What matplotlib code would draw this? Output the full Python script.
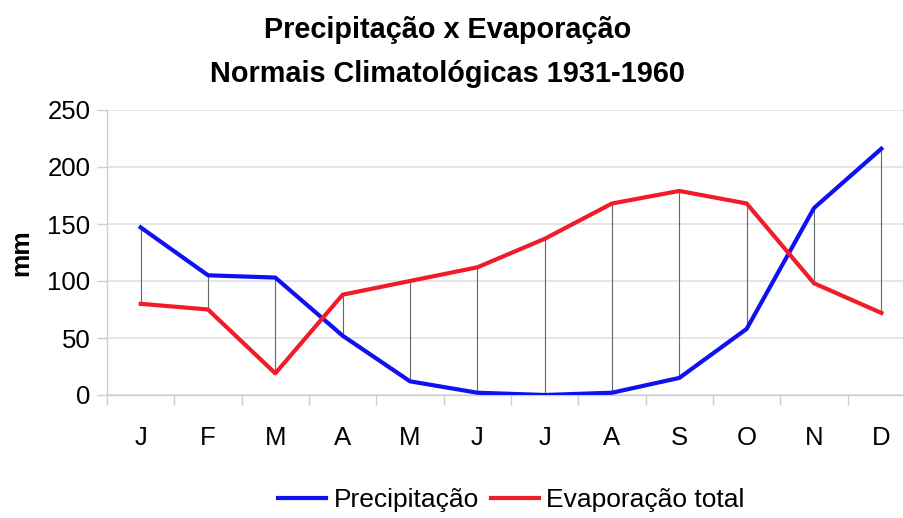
import matplotlib.pyplot as plt
import numpy as np

plt.rcParams['font.family'] = ['Liberation Sans', 'DejaVu Sans']

meses = ['J', 'F', 'M', 'A', 'M', 'J', 'J', 'A', 'S', 'O', 'N', 'D']
precipitacao = [147, 105, 103, 52, 12, 2, 0, 2, 15, 58, 164, 216]
evaporacao = [80, 75, 19, 88, 100, 112, 137, 168, 179, 168, 98, 72]

fig = plt.figure(figsize=(9.04, 5.18), dpi=100)
ax = fig.add_axes([107 / 904, 1 - 395 / 518, 808 / 904, 285 / 518])

x = np.arange(len(meses))

# linhas verticais entre as duas séries
ax.vlines(x, np.minimum(precipitacao, evaporacao), np.maximum(precipitacao, evaporacao),
          color='#5f6b6b', linewidth=0.8, zorder=2)

ax.plot(x, precipitacao, color='#1010f0', linewidth=3, label='Precipitação', zorder=3)
ax.plot(x, evaporacao, color='#f01c28', linewidth=3, label='Evaporação total', zorder=3)

ax.set_xlim(-0.5, 11.5)
ax.set_ylim(0, 250)
ax.set_yticks(range(0, 251, 50))
ax.set_xticks(x)
ax.set_xticklabels(meses, fontsize=18.5)
ax.set_xticks(np.arange(-0.5, 12, 1), minor=True)
ax.tick_params(axis='x', which='major', length=0, pad=22)
ax.tick_params(axis='x', which='minor', length=7, color='#c8d0d0', width=1)
ax.tick_params(axis='y', labelsize=18.5, length=7, color='#c8d0d0', width=1, pad=5)

ax.grid(axis='y', color='#dde2e2', linewidth=1.2)
ax.set_axisbelow(True)
for s in ['top', 'right']:
    ax.spines[s].set_visible(False)
for s in ['left', 'bottom']:
    ax.spines[s].set_color('#c8d0d0')
    ax.spines[s].set_linewidth(1)

ax.set_ylabel('mm', fontsize=19, fontweight='bold', labelpad=10)

fig.text(0.495, 1 - 38 / 518, 'Precipitação x Evaporação', fontsize=20.8,
         fontweight='bold', ha='center', va='baseline')
fig.text(0.495, 1 - 82 / 518, 'Normais Climatológicas 1931-1960', fontsize=20.8,
         fontweight='bold', ha='center', va='baseline')

fig.legend(loc='center', bbox_to_anchor=(0.566, 1 - 500 / 518), ncol=2, frameon=False,
           fontsize=19, handlelength=1.8, columnspacing=0.45, handletextpad=0.3,
           borderpad=0, borderaxespad=0)

fig.savefig('out.png', dpi=100)
